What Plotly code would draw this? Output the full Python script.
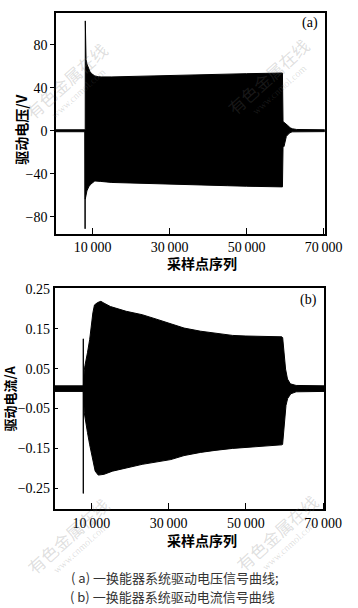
import plotly.graph_objects as go

W, H = 358, 608

# ---------------- data: (a) drive voltage envelope (V) ----------------
va_upper_x = [500, 8000, 8080, 8100, 8130, 8300, 8520, 8900, 9300, 9750, 10570, 11500, 12220,
              15000, 20000, 25000, 30000, 35000, 40000, 45000, 50000, 55000, 59300, 59450,
              59900, 60680, 61300, 61910, 63000, 66000, 70300]
va_upper_y = [0.9, 0.9, 0.9, 102, 75, 66, 62, 57.6, 55, 53, 50.9, 50.2, 50,
              50, 50.5, 50.9, 51.5, 51.8, 52.2, 52.5, 53, 53.3, 53.6, 8.6,
              7.5, 4.9, 2.8, 1.8, 1.2, 0.9, 0.9]
va_lower_x = [500, 8000, 8030, 8050, 8070, 8100, 8300, 8520, 9000, 9500, 10570, 12000,
              15000, 20000, 25000, 30000, 35000, 40000, 45000, 50000, 55000, 59300, 59450,
              59720, 60310, 61120, 61800, 63000, 66000, 70300]
va_lower_y = [-0.9, -0.9, -0.9, -91, -0.9, -63.4, -60, -55.8, -52, -49.7, -46.6, -47,
              -48, -48.5, -49, -49.7, -50.2, -50.6, -51, -51.5, -52, -52.1, -15.6,
              -14.4, -5.2, -2.1, -1.0, -0.8, -0.8, -0.8]

# ---------------- data: (b) drive current envelope (A) ----------------
ib_upper_x = [500, 7900, 7925, 7950, 8170, 8346, 9000, 9580, 10400, 10815, 11630, 12470, 13280,
              14940, 19040, 23160, 27280, 30570, 34000, 38300, 42000, 46540, 50000, 55000,
              59280, 59520, 59900, 60270, 60770, 61500, 63000, 66000, 70300]
ib_upper_y = [0.007, 0.007, 0.125, 0.007, 0.045, 0.0575, 0.09, 0.1235, 0.190, 0.210, 0.216, 0.219, 0.2145,
              0.206, 0.194, 0.1855, 0.173, 0.162, 0.152, 0.144, 0.139, 0.1335, 0.132, 0.131,
              0.130, 0.128, 0.082, 0.049, 0.024, 0.012, 0.008, 0.007, 0.007]
ib_lower_x = [500, 7900, 7925, 7950, 8170, 8346, 9000, 9580, 10400, 11000, 11800, 13280,
              15500, 19040, 23160, 30570, 34000, 38300, 42000, 46540, 50000, 55000,
              59280, 59500, 59990, 60380, 60800, 61620, 63000, 66000, 70300]
ib_lower_y = [-0.007, -0.007, -0.263, -0.007, -0.06, -0.071, -0.11, -0.141, -0.182, -0.207, -0.217, -0.215,
              -0.207, -0.199, -0.19, -0.178, -0.168, -0.160, -0.155, -0.150, -0.147, -0.144,
              -0.141, -0.140, -0.083, -0.042, -0.025, -0.013, -0.008, -0.007, -0.007]

x_tickvals = [10000, 30000, 50000, 70000]
x_ticktext = ["10\u2009000", "30\u2009000", "50\u2009000", "70\u2009000"]
va_tickvals = [-80, -40, 0, 40, 80]
va_ticktext = ["\u221280", "\u221240", "0", "40", "80"]
ib_tickvals = [-0.25, -0.15, -0.05, 0.05, 0.15, 0.25]
ib_ticktext = ["\u22120.25", "\u22120.15", "\u22120.05", "0.05", "0.15", "0.25"]

captions = ["( a) 一换能器系统驱动电压信号曲线;", "( b) 一换能器系统驱动电流信号曲线"]


def px(x):
    return x / W


def py(y):
    return 1 - y / H


def envelope(ux, uy, lx, ly):
    xs = list(ux) + list(reversed(lx)) + [ux[0]]
    ys = list(uy) + list(reversed(ly)) + [uy[0]]
    return xs, ys


fig = go.Figure()

ax, ay = envelope(va_upper_x, va_upper_y, va_lower_x, va_lower_y)
fig.add_trace(go.Scatter(x=ax, y=ay, mode="lines", fill="toself", fillcolor="black",
                         line=dict(color="black", width=1), xaxis="x", yaxis="y",
                         hoverinfo="skip", showlegend=False))
bx, by = envelope(ib_upper_x, ib_upper_y, ib_lower_x, ib_lower_y)
fig.add_trace(go.Scatter(x=bx, y=by, mode="lines", fill="toself", fillcolor="black",
                         line=dict(color="black", width=1), xaxis="x2", yaxis="y2",
                         hoverinfo="skip", showlegend=False))

tickfont = dict(family="Liberation Serif", size=14, color="black")
common_x = dict(range=[500, 70300], tickvals=x_tickvals, ticktext=x_ticktext,
                ticks="inside", ticklen=6, tickwidth=1, tickcolor="black",
                showline=True, linecolor="black", linewidth=1.5, mirror=True,
                showgrid=False, zeroline=False, tickfont=tickfont,
                ticklabeloverflow="allow")

fig.update_layout(
    width=W, height=H, margin=dict(l=0, r=0, t=0, b=0),
    paper_bgcolor="white", plot_bgcolor="white", showlegend=False,
    xaxis=dict(domain=[px(59), px(342)], anchor="y", **common_x),
    yaxis=dict(domain=[py(230), py(7)], anchor="x", range=[-95.6, 109.4],
               tickvals=va_tickvals, ticktext=va_ticktext,
               ticks="outside", ticklen=4, tickwidth=1, tickcolor="black",
               showline=True, linecolor="black", linewidth=1.5, mirror=True,
               showgrid=False, zeroline=False, tickfont=tickfont),
    xaxis2=dict(domain=[px(57.5), px(341.5)], anchor="y2", **common_x),
    yaxis2=dict(domain=[py(508), py(285)], anchor="x2", range=[-0.302, 0.252],
                tickvals=ib_tickvals, ticktext=ib_ticktext,
                ticks="inside", ticklen=4, tickwidth=1, tickcolor="black",
                showline=True, linecolor="black", linewidth=1.5, mirror=True,
                showgrid=False, zeroline=False, tickfont=tickfont),
)

cjk = "Noto Sans CJK SC"
ann = []
# watermarks (faint; translucent so they nearly vanish over the black signal)
wm_color = "rgba(110,110,110,0.22)"
for (cx, cy) in [(70, 75), (282, 71), (72, 535), (292, 532)]:
    ann.append(dict(x=px(cx), y=py(cy), xref="paper", yref="paper", text="有色金属在线",
                    showarrow=False, textangle=-42, xanchor="center", yanchor="middle",
                    font=dict(family=cjk, size=17, color=wm_color)))
    ann.append(dict(x=px(cx + 12), y=py(cy + 13), xref="paper", yref="paper", text="www.cnmol.com",
                    showarrow=False, textangle=-42, xanchor="center", yanchor="middle",
                    font=dict(family="Liberation Serif", size=10, color=wm_color)))


def label(x, y, text, size, family=cjk, angle=0, color="black"):
    return dict(x=px(x), y=py(y), xref="paper", yref="paper", text=text,
                showarrow=False, textangle=angle, xanchor="center", yanchor="middle",
                borderpad=0, font=dict(family=family, size=size, color=color))


ann += [
    label(22, 125, "<b>驱动电压/V</b>", 14, angle=-90),
    label(10, 396, "<b>驱动电流/A</b>", 13, angle=-90),
    label(213, 260, "<b>采样点序列</b>", 14),
    label(213, 539, "<b>采样点序列</b>", 14),
    label(326, 17, "(a)", 14, family="Liberation Serif"),
    label(325, 297, "(b)", 14, family="Liberation Serif"),
    label(184, 577, captions[0], 13, color="#333333"),
    label(182, 596, captions[1], 13, color="#333333"),
]
fig.update_layout(annotations=ann)

fig.write_html("out.html")
